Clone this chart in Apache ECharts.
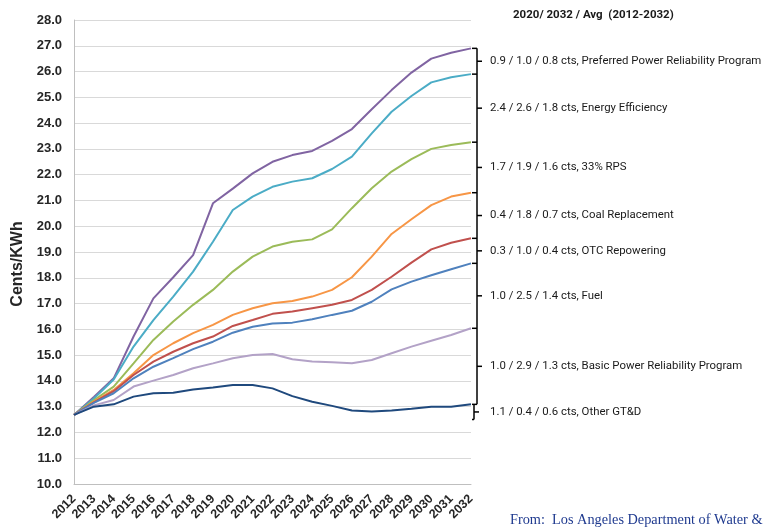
<!DOCTYPE html>
<html><head><meta charset="utf-8">
<script src="https://cdn.jsdelivr.net/npm/echarts@6/dist/echarts.min.js"></script>
<style>html,body{margin:0;padding:0;background:#fff}#c{width:763px;height:529px}</style>
</head><body><div id="c"></div>
<script>
const years = ['2012','2013','2014','2015','2016','2017','2018','2019','2020','2021','2022','2023','2024','2025','2026','2027','2028','2029','2030','2031','2032'];
const preferredPower = [12.68,13.38,14.10,15.72,17.20,18.02,18.88,20.89,21.46,22.05,22.50,22.76,22.92,23.31,23.77,24.54,25.28,25.96,26.50,26.73,26.90];
const energyEfficiency = [12.68,13.32,14.05,15.33,16.36,17.27,18.24,19.40,20.63,21.15,21.53,21.73,21.86,22.22,22.70,23.60,24.44,25.05,25.58,25.78,25.90];
const rps33 = [12.68,13.25,13.78,14.68,15.59,16.30,16.95,17.53,18.24,18.82,19.21,19.40,19.49,19.88,20.70,21.47,22.12,22.60,23.00,23.15,23.26];
const coalReplacement = [12.68,13.20,13.65,14.30,15.00,15.46,15.85,16.17,16.56,16.82,17.01,17.10,17.27,17.53,18.02,18.82,19.70,20.27,20.82,21.15,21.30];
const otcRepowering = [12.68,13.17,13.60,14.23,14.75,15.13,15.46,15.72,16.13,16.36,16.60,16.69,16.82,16.95,17.14,17.53,18.04,18.59,19.10,19.36,19.53];
const fuel = [12.68,13.15,13.52,14.10,14.55,14.88,15.23,15.52,15.87,16.10,16.23,16.26,16.39,16.56,16.72,17.07,17.55,17.85,18.10,18.33,18.56];
const basicPower = [12.68,13.05,13.26,13.78,14.01,14.23,14.49,14.68,14.88,15.00,15.04,14.84,14.75,14.72,14.68,14.81,15.07,15.33,15.56,15.78,16.04];
const otherGTD = [12.68,13.00,13.09,13.39,13.52,13.54,13.67,13.74,13.84,13.84,13.71,13.41,13.19,13.03,12.85,12.81,12.85,12.92,13.00,13.00,13.09];
const bracketLabels = [
  '0.9 / 1.0 / 0.8 cts, Preferred Power Reliability Program',
  '2.4 / 2.6 / 1.8 cts, Energy Efficiency',
  '1.7 / 1.9 / 1.6 cts, 33% RPS',
  '0.4 / 1.8 / 0.7 cts, Coal Replacement',
  '0.3 / 1.0 / 0.4 cts, OTC Repowering',
  '1.0 / 2.5 / 1.4 cts, Fuel',
  '1.0 / 2.9 / 1.3 cts, Basic Power Reliability Program',
  '1.1 / 0.4 / 0.6 cts, Other GT&D'
];
const otherGTDBase = 12.5;
const yTitle = 'Cents/KWh';
const bracketTitle = '2020/ 2032 / Avg  (2012-2032)';
const sourceNote = 'From:  Los Angeles Department of Water & Power';

const seriesDefs = [
  {name:'Preferred Power Reliability Program', data:preferredPower, color:'#8064a2'},
  {name:'Energy Efficiency', data:energyEfficiency, color:'#4bacc6'},
  {name:'33% RPS', data:rps33, color:'#9bbb59'},
  {name:'Coal Replacement', data:coalReplacement, color:'#f79646'},
  {name:'OTC Repowering', data:otcRepowering, color:'#c0504d'},
  {name:'Fuel', data:fuel, color:'#4f81bd'},
  {name:'Basic Power Reliability Program', data:basicPower, color:'#b3a2c7'},
  {name:'Other GT&D', data:otherGTD, color:'#1f497d'}
];

const chart = echarts.init(document.getElementById('c'), null, {renderer:'canvas'});
chart.setOption({
  animation:false,
  grid:{left:74,right:292,top:20,bottom:45},
  xAxis:{type:'category',data:years,boundaryGap:false,
    axisLine:{lineStyle:{color:'#bfbfbf',width:1}},axisTick:{show:false},
    axisLabel:{rotate:45,fontWeight:'bold',fontSize:12.5,color:'#262626',fontFamily:'Arial',margin:13,interval:0},
    splitLine:{show:false}},
  yAxis:{type:'value',min:10,max:28,interval:1,
    axisLabel:{formatter:v=>v.toFixed(1),fontWeight:'bold',fontSize:13,color:'#262626',fontFamily:'Arial',margin:12},
    axisLine:{show:true,lineStyle:{color:'#bfbfbf'}},axisTick:{show:false},
    splitLine:{lineStyle:{color:'#d9d9d9'}}},
  series:seriesDefs.map(s=>({type:'line',name:s.name,data:s.data,symbol:'none',smooth:false,
    lineStyle:{color:s.color,width:2},itemStyle:{color:s.color}}))
});

// Brackets built from the series end values
const last = years.length-1;
const ends = seriesDefs.map((s,i)=>chart.convertToPixel({seriesIndex:i},[last,s.data[last]]));
const baseY = chart.convertToPixel({seriesIndex:0},[last,otherGTDBase])[1];
const x0 = ends[0][0];
const bx = x0+6;
const g = [];
const stroke = {stroke:'#000',lineWidth:1.5};
g.push({type:'line',shape:{x1:bx,y1:ends[0][1],x2:bx,y2:ends[ends.length-1][1]},style:stroke});
ends.forEach(p=>g.push({type:'line',shape:{x1:x0+1,y1:p[1],x2:bx,y2:p[1]},style:stroke}));
g.push({type:'line',shape:{x1:bx-3,y1:ends[ends.length-1][1],x2:bx-3,y2:baseY},style:stroke});
g.push({type:'line',shape:{x1:x0+1,y1:baseY,x2:bx-3,y2:baseY},style:stroke});
const ys = ends.map(p=>p[1]).concat([baseY]);
bracketLabels.forEach((t,i)=>{
  const my = (ys[i]+ys[i+1])/2;
  const tx = (i===bracketLabels.length-1)? bx-3 : bx;
  g.push({type:'line',shape:{x1:tx,y1:my,x2:tx+5,y2:my},style:stroke});
  g.push({type:'text',x:bx+13,y:my,style:{text:t,fontSize:11.4,fontFamily:'Roboto',fill:'#1a1a1a',textVerticalAlign:'middle',textAlign:'left'}});
});
g.push({type:'text',x:18,y:264,rotation:Math.PI/2,style:{text:yTitle,fontSize:16,fontWeight:'bold',fontFamily:'Arial',fill:'#262626',textAlign:'center',textVerticalAlign:'middle'}});
g.push({type:'text',x:513,y:15,style:{text:bracketTitle,fontSize:11.5,fontWeight:'bold',fontFamily:'Roboto',fill:'#1a1a1a',textVerticalAlign:'middle'}});
g.push({type:'text',x:510,y:520,style:{text:sourceNote,fontSize:14.3,fontFamily:'Liberation Serif',fill:'#1f3a8f',textVerticalAlign:'middle'}});
chart.setOption({graphic:g});
</script></body></html>
